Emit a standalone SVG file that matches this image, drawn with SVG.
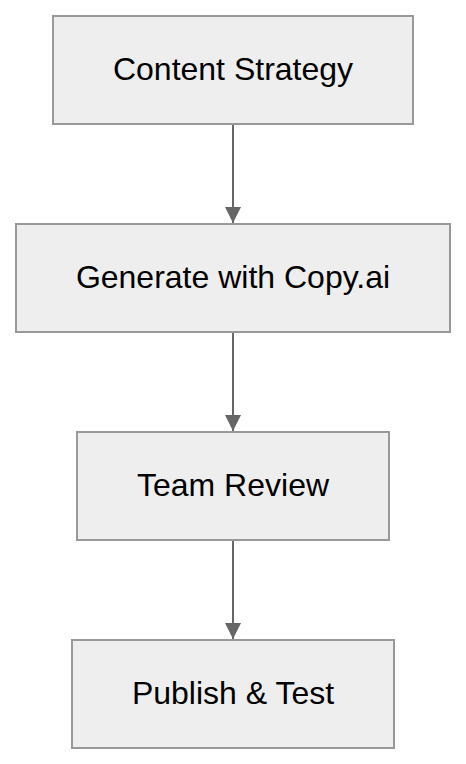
<svg xmlns="http://www.w3.org/2000/svg" width="466" height="764" viewBox="0 0 466 764">
<style>
.box{fill:#eeeeee;stroke:#999999;stroke-width:2}
.lbl{font-family:"Liberation Sans",Arial,sans-serif;font-size:32px;fill:#000000;text-anchor:middle}
.edge{stroke:#666666;stroke-width:2;fill:none}
</style>
<defs>
<marker id="arr" viewBox="0 0 16 16" refX="16" refY="8" markerWidth="16" markerHeight="16" markerUnits="userSpaceOnUse" orient="auto">
<path d="M0,0 L16,8 L0,16 Z" fill="#666666"/>
</marker>
</defs>
<g id="connectors">
<line class="edge" x1="233" y1="124" x2="233" y2="223" marker-end="url(#arr)"/>
<line class="edge" x1="233" y1="332" x2="233" y2="431" marker-end="url(#arr)"/>
<line class="edge" x1="233" y1="540" x2="233" y2="639" marker-end="url(#arr)"/>
</g>
<g id="node-content-strategy">
<rect class="box" x="53" y="16" width="360" height="108"/>
<text class="lbl" x="233" y="80">Content Strategy</text>
</g>
<g id="node-generate">
<rect class="box" x="16" y="224" width="434" height="108"/>
<text class="lbl" x="233" y="288">Generate with Copy.ai</text>
</g>
<g id="node-team-review">
<rect class="box" x="77" y="432" width="312" height="108"/>
<text class="lbl" x="233" y="496">Team Review</text>
</g>
<g id="node-publish">
<rect class="box" x="72" y="640" width="322" height="108"/>
<text class="lbl" x="233" y="704">Publish &amp; Test</text>
</g>
</svg>
